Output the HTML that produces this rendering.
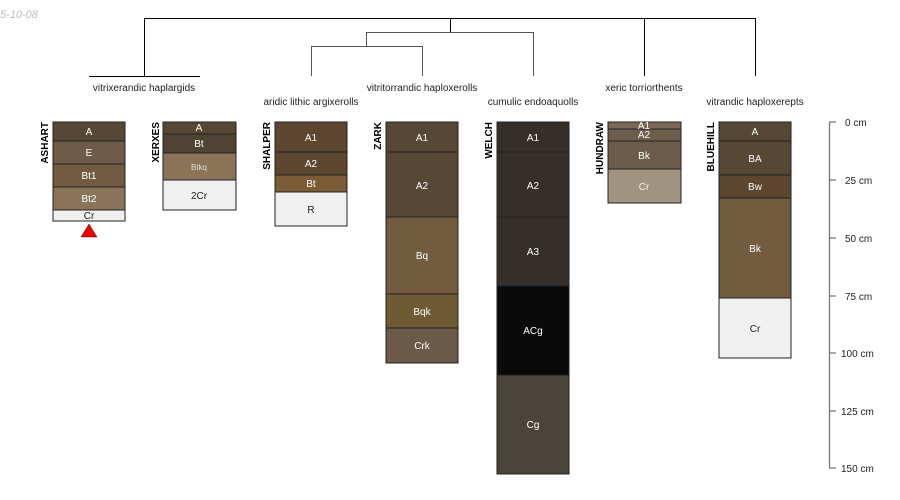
<!DOCTYPE html>
<html><head><meta charset="utf-8"><style>body{margin:0;background:#fff}svg{display:block}</style></head><body>
<svg width="900" height="500" xmlns="http://www.w3.org/2000/svg" font-family="Liberation Sans, sans-serif">
<text x="0" y="18" font-size="11" font-style="italic" fill="#bbb">5-10-08</text>
<g stroke="#000" stroke-width="1" fill="none">
<path d="M144.5 76V18.5H755.5V76M89 76.5H200M644.5 18.5V76M450.5 18.5V32.5"/>
<path d="M366.5 46V32.5H533.5V76M311.5 76V46.5H422.5V76" stroke="#555"/>
</g>
<g font-size="10" fill="#222" text-anchor="middle">
<text x="144" y="91">vitrixerandic haplargids</text>
<text x="311" y="105">aridic lithic argixerolls</text>
<text x="422" y="91">vitritorrandic haploxerolls</text>
<text x="533" y="105">cumulic endoaquolls</text>
<text x="644" y="91">xeric torriorthents</text>
<text x="755" y="105">vitrandic haploxerepts</text>
</g>
<g font-size="10" font-weight="bold" fill="#000">
<text transform="translate(48,122) rotate(-90)" text-anchor="end">ASHART</text>
<text transform="translate(159,122) rotate(-90)" text-anchor="end">XERXES</text>
<text transform="translate(270,122) rotate(-90)" text-anchor="end">SHALPER</text>
<text transform="translate(381,122) rotate(-90)" text-anchor="end">ZARK</text>
<text transform="translate(492,122) rotate(-90)" text-anchor="end">WELCH</text>
<text transform="translate(603,122) rotate(-90)" text-anchor="end">HUNDRAW</text>
<text transform="translate(714,122) rotate(-90)" text-anchor="end">BLUEHILL</text>
</g>
<g stroke="#222" stroke-width="1" font-size="10" text-anchor="middle">
<!-- ASHART -->
<rect x="53" y="122" width="72" height="19" fill="#574836"/><rect x="53" y="141" width="72" height="23" fill="#6e5c49"/><rect x="53" y="164" width="72" height="23" fill="#705a40"/><rect x="53" y="187" width="72" height="23" fill="#8a755a"/><rect x="53" y="210" width="72" height="11" fill="#f0f0f0"/>
<!-- XERXES -->
<rect x="163" y="122" width="73" height="12" fill="#574836"/><rect x="163" y="134" width="73" height="19" fill="#4f4434"/><rect x="163" y="153" width="73" height="27" fill="#8b7458"/><rect x="163" y="180" width="73" height="30" fill="#f0f0f0"/>
<!-- SHALPER -->
<rect x="275" y="122" width="72" height="30" fill="#5c4630"/><rect x="275" y="152" width="72" height="23" fill="#5c4630"/><rect x="275" y="175" width="72" height="17" fill="#7b5c37"/><rect x="275" y="192" width="72" height="34" fill="#f0f0f0"/>
<!-- ZARK -->
<rect x="386" y="122" width="72" height="30" fill="#574836"/><rect x="386" y="152" width="72" height="65" fill="#574836"/><rect x="386" y="217" width="72" height="77" fill="#735b40"/><rect x="386" y="294" width="72" height="34" fill="#705a34"/><rect x="386" y="328" width="72" height="35" fill="#6b5a48"/>
<!-- WELCH -->
<rect x="497" y="122" width="72" height="30" fill="#362e28"/><rect x="497" y="152" width="72" height="65" fill="#362e28"/><rect x="497" y="217" width="72" height="69" fill="#362e28"/><rect x="497" y="286" width="72" height="89" fill="#0a0a0a"/><rect x="497" y="375" width="72" height="99" fill="#4a443a"/>
<!-- HUNDRAW -->
<rect x="608" y="122" width="73" height="7" fill="#7a6a55"/><rect x="608" y="129" width="73" height="12" fill="#6d5d4b"/><rect x="608" y="141" width="73" height="28" fill="#6b5d4a"/><rect x="608" y="169" width="73" height="34" fill="#a09380"/>
<!-- BLUEHILL -->
<rect x="719" y="122" width="72" height="19" fill="#574836"/><rect x="719" y="141" width="72" height="34" fill="#574836"/><rect x="719" y="175" width="72" height="23" fill="#5c4630"/><rect x="719" y="198" width="72" height="100" fill="#735b40"/><rect x="719" y="298" width="72" height="60" fill="#f0f0f0"/>
</g>
<g font-size="10" text-anchor="middle" fill="#fff">
<text x="89" y="135">A</text><text x="89" y="156">E</text><text x="89" y="179">Bt1</text><text x="89" y="202">Bt2</text><text x="89" y="219" fill="#222">Cr</text>
<text x="199" y="131">A</text><text x="199" y="147">Bt</text><text x="199" y="170" font-size="8" fill="#ddd">Btkq</text><text x="199" y="199" fill="#222">2Cr</text>
<text x="311" y="141">A1</text><text x="311" y="167">A2</text><text x="311" y="187">Bt</text><text x="311" y="213" fill="#222">R</text>
<text x="422" y="141">A1</text><text x="422" y="189">A2</text><text x="422" y="259">Bq</text><text x="422" y="315">Bqk</text><text x="422" y="349">Crk</text>
<text x="533" y="141">A1</text><text x="533" y="189">A2</text><text x="533" y="255">A3</text><text x="533" y="334">ACg</text><text x="533" y="428">Cg</text>
<text x="644" y="129">A1</text><text x="644" y="138">A2</text><text x="644" y="159">Bk</text><text x="644" y="190" fill="#eee">Cr</text>
<text x="755" y="135">A</text><text x="755" y="162">BA</text><text x="755" y="190">Bw</text><text x="755" y="252">Bk</text><text x="755" y="332" fill="#222">Cr</text>
</g>
<polygon points="89,224 81,237 97,237" fill="#e00" stroke="#600" stroke-width="0.5"/>
<g stroke="#777" stroke-width="1.3"><path d="M829.5 122V468M829 122H836M829 180H836M829 238H836M829 296H836M829 353H836M829 411H836M829 468H836"/></g>
<g font-size="10" fill="#222">
<text x="845" y="126">0 cm</text><text x="845" y="184">25 cm</text><text x="845" y="242">50 cm</text><text x="845" y="300">75 cm</text><text x="841" y="357">100 cm</text><text x="841" y="415">125 cm</text><text x="841" y="472">150 cm</text>
</g>
</svg>
</body></html>
